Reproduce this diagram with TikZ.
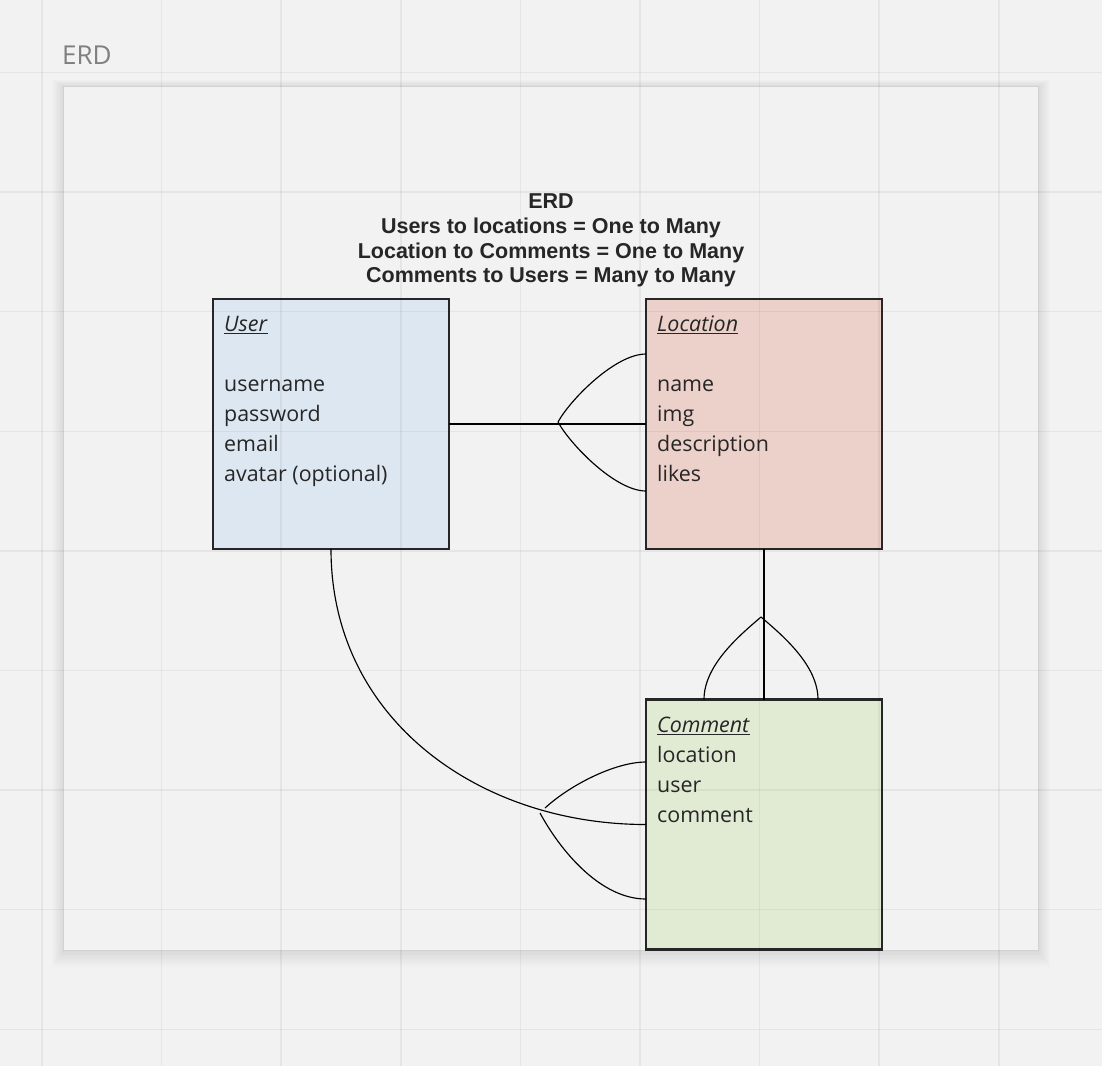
\documentclass[tikz,border=0pt]{standalone}
\usepackage{fontspec}
\setmainfont{Open Sans}
\newfontfamily\titlefont{Liberation Sans}
\usetikzlibrary{calc}
\definecolor{bg}{HTML}{F2F2F2}
\definecolor{framebd}{HTML}{D2D2D2}
\definecolor{userfill}{HTML}{DDE7F1}
\definecolor{locfill}{HTML}{ECD0CA}
\definecolor{comfill}{HTML}{E1EBD4}
\definecolor{ink}{HTML}{262626}
\definecolor{labelgray}{HTML}{7F7F7F}
\tikzset{
  entity/.style={draw=ink, line width=2.5pt, minimum width=236pt, minimum height=250pt, inner sep=0pt, outer sep=0pt},
  attrs/.style={font=\fontsize{21.4}{30}\selectfont, align=left, inner sep=0pt, anchor=north west, text=ink},
  conn/.style={line width=1.15pt, black},
  gridline/.style={line width=1.5pt, black, opacity=0.05},
  framebox/.style={fill=bg, draw=framebd, line width=1pt, minimum width=975pt, minimum height=864pt, inner sep=0pt},
}
\begin{document}
\begin{tikzpicture}[x=1pt,y=-1pt]
\useasboundingbox (0,0) rectangle (1102,1066);
\fill[bg] (0,0) rectangle (1102,1066);
% frame shadow
\foreach \i in {1,...,12}{
  \fill[black, opacity=0.009] (64-\i,87-0.6*\i) rectangle (1038+\i,951+1.3*\i);
}
\node[framebox] (frame) at (550.5,518) {};
\node[anchor=base west, inner sep=0pt, text=labelgray, font=\fontsize{26}{30}\selectfont] (framelabel) at (62,64) {ERD};
% title
\node[anchor=north, inner sep=0pt, align=center, text=ink, font=\titlefont\bfseries\fontsize{21.5}{24.6}\selectfont] (title) at (551,194)
  {ERD\\Users to locations = One to Many\\Location to Comments = One to Many\\Comments to Users = Many to Many};
% entities
\node[entity, fill=userfill] (user) at (331,424) {};
\node[entity, fill=locfill] (loc) at (764,424) {};
\node[entity, fill=comfill] (com) at (764,824.5) {};
\node[attrs] (usertext) at (224,316) {\underline{\textit{User}}\\ \\username\\password\\email\\avatar (optional)};
\node[attrs] (loctext) at (657,316) {\underline{\textit{Location}}\\ \\name\\img\\description\\likes};
\node[attrs] (comtext) at (657,717) {\underline{\textit{Comment}}\\location\\user\\comment};
% connector user - location
\draw[conn] (user.east) -- (loc.west);
\coordinate (ulapex) at (558,422);
\draw[conn] (ulapex) .. controls (570,400) and (615,354) .. ($(loc.west)+(0,-70)$);
\draw[conn] (ulapex) .. controls (570,444) and (615,491) .. ($(loc.west)+(0,67)$);
% connector location - comment
\draw[conn] (loc.south) -- (com.north);
\coordinate (lcapex) at (761,617);
\draw[conn] (lcapex) .. controls (740,635) and (704,665) .. ($(com.north)+(-60,0)$);
\draw[conn] (lcapex) .. controls (782,635) and (818,665) .. ($(com.north)+(54,0)$);
% connector user - comment
\draw[conn] (user.south) .. controls (331,720) and (480,824.5) .. (com.west);
\coordinate (ucapex1) at (545,808);
\coordinate (ucapex2) at (540,813);
\draw[conn] (ucapex1) .. controls (570,785) and (615,762) .. ($(com.west)+(0,-62.5)$);
\draw[conn] (ucapex2) .. controls (560,850) and (600,899) .. ($(com.west)+(0,74.5)$);
% grid
\foreach \k in {0,...,8}{
  \draw[gridline] (42+119.6*\k,0) -- (42+119.6*\k,1066);
  \draw[gridline] (0,72.5+119.6*\k) -- (1102,72.5+119.6*\k);
}
\end{tikzpicture}
\end{document}
